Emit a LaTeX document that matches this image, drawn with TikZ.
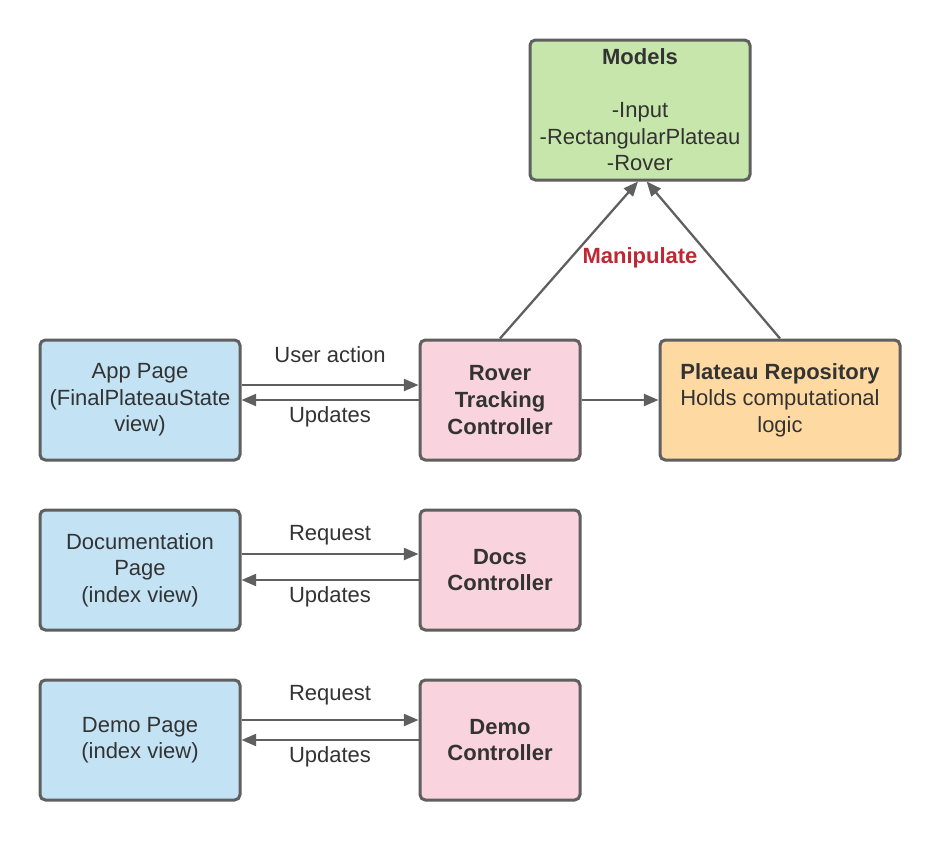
\documentclass[tikz,border=0pt]{standalone}
\usepackage{fontspec}
\setmainfont{Liberation Sans}
\usetikzlibrary{arrows.meta}
\definecolor{bluef}{RGB}{195,227,245}
\definecolor{pinkf}{RGB}{249,211,222}
\definecolor{orangef}{RGB}{255,217,162}
\definecolor{greenf}{RGB}{199,230,172}
\definecolor{edgec}{RGB}{95,95,95}
\definecolor{txtc}{RGB}{51,51,51}
\definecolor{redc}{RGB}{190,40,52}
\tikzset{
  box/.style={draw=edgec, line width=2.25pt, rounded corners=4pt, align=center,
    text=txtc, font=\fontsize{16.5}{19.9}\selectfont, inner sep=0pt},
  conn/.style={draw=edgec, line width=1.7pt, -{Triangle[length=11pt,width=9pt]}},
  lbl/.style={text=txtc, font=\fontsize{16.5}{19.9}\selectfont, inner sep=0pt}
}
\begin{document}
\begin{tikzpicture}[x=0.75pt,y=-0.75pt]
\useasboundingbox[fill=white] (0,0) rectangle (940,840);
\node[box, fill=greenf, minimum width=165pt, minimum height=105pt] (models) at (640,110)
  {\textbf{Models}\\[19.9pt]-Input\\-RectangularPlateau\\-Rover};
\node[box, fill=bluef, minimum width=150pt, minimum height=90pt] (app) at (140,400)
  {App Page\\(FinalPlateauState\\view)};
\node[box, fill=pinkf, minimum width=120pt, minimum height=90pt] (rover) at (500,400)
  {\textbf{Rover}\\\textbf{Tracking}\\\textbf{Controller}};
\node[box, fill=orangef, minimum width=180pt, minimum height=90pt] (repo) at (780,400)
  {\textbf{Plateau Repository}\\Holds computational\\logic};
\node[box, fill=bluef, minimum width=150pt, minimum height=90pt] (docp) at (140,570)
  {Documentation\\Page\\(index view)};
\node[box, fill=pinkf, minimum width=120pt, minimum height=90pt] (docc) at (500,570)
  {\textbf{Docs}\\\textbf{Controller}};
\node[box, fill=bluef, minimum width=150pt, minimum height=90pt] (demop) at (140,740)
  {Demo Page\\(index view)};
\node[box, fill=pinkf, minimum width=120pt, minimum height=90pt] (democ) at (500,740)
  {\textbf{Demo}\\\textbf{Controller}};
% connectors
\draw[conn] ([yshift=11.25pt]app.east) -- ([yshift=11.25pt]rover.west);
\draw[conn] (rover.west) -- (app.east);
\draw[conn] (rover.east) -- (repo.west);
\draw[conn] (rover.north) -- ([xshift=-1.5pt]models.south);
\draw[conn] (repo.north) -- ([xshift=5pt]models.south);
\draw[conn] ([yshift=12pt]docp.east) -- ([yshift=12pt]docc.west);
\draw[conn] ([yshift=-7.5pt]docc.west) -- ([yshift=-7.5pt]docp.east);
\draw[conn] ([yshift=15pt]demop.east) -- ([yshift=15pt]democ.west);
\draw[conn] (democ.west) -- (demop.east);
% labels
\node[lbl] (l1) at (330,355) {User action};
\node[lbl] (l2) at (330,417) {Updates};
\node[lbl] (l3) at (330,535) {Request};
\node[lbl] (l4) at (330,597) {Updates};
\node[lbl] (l5) at (330,695) {Request};
\node[lbl] (l6) at (330,757) {Updates};
\node[lbl, text=redc, font=\fontsize{16.5}{19.9}\selectfont\bfseries] (l7) at (640,258) {Manipulate};
\end{tikzpicture}
\end{document}
